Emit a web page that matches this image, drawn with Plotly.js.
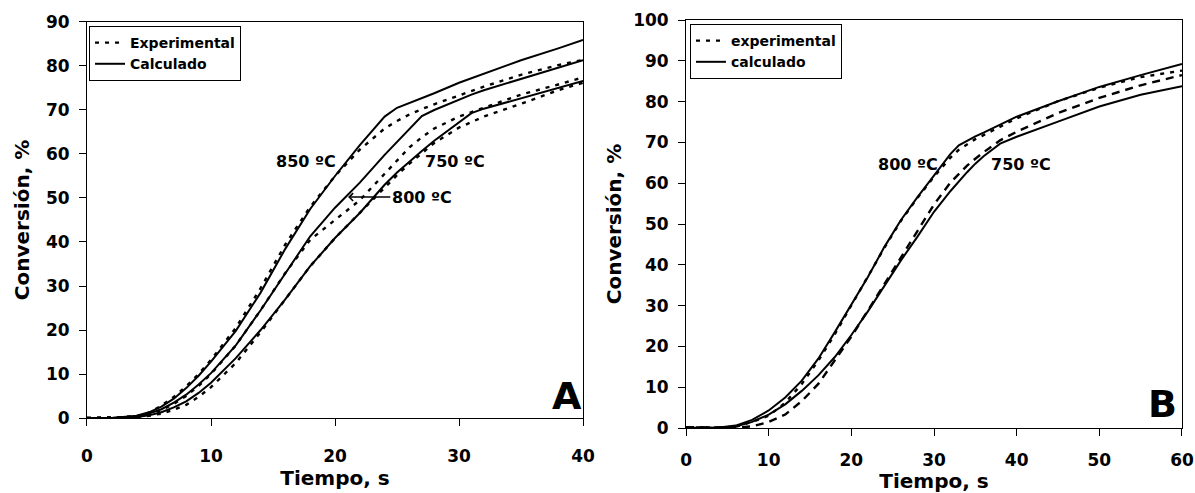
<!DOCTYPE html>
<html>
<head>
<meta charset="utf-8">
<script src="https://cdn.plot.ly/plotly-3.0.1.min.js"></script>
<style>html,body{margin:0;padding:0;background:#fff;}#chart{width:1195px;height:493px;}</style>
</head>
<body>
<div id="chart"></div>
<script>
// ---- Panel A data (time, s) ----
var tA = [0,2,4,5,6,7,8,9,10,12,14,16,18,20,22,24,25,26,27,28,30,31,32,35,38,40];
var calcA850 = [0,0,0.5,1.3,2.6,4.4,6.8,9.6,12.8,19.8,28.5,38.5,47.5,55,62,68.5,70.5,71.6,72.7,73.8,76.2,77.2,78.2,81.3,84,85.9];
var expA850  = [0,0.1,0.4,1.2,2.8,4.8,7.2,10,13.2,20.5,29.5,39.5,48,55,61,65.8,67.5,69,70.2,71.3,73.3,74.3,75.3,78,80.2,81.4];
var calcA800 = [0,0,0.3,1,2,3.5,5.3,7.6,10.2,16.5,24.5,33,41.3,47.8,53.5,59.8,62.8,65.8,68.6,70,72.4,73.5,74.5,77,79.6,81.3];
var expA800  = [0,0.1,0.3,0.9,1.8,3.2,5,7.3,10,16.5,24.5,33,40.5,45,49.5,55.5,58.5,61.5,63.8,65.8,68.5,69.5,70.5,73.5,75.8,77.4];
var calcA750 = [0,0,0.2,0.6,1.3,2.4,3.8,5.7,8,13.6,20,27,34.5,40.9,46.6,53,55.8,58.3,60.7,63,67.2,69.3,70.3,72.6,75,76.6];
var expA750  = [0,0.1,0.2,0.5,1,1.9,3,4.8,7,12.5,19.5,27,34.5,40.9,46.6,52.5,55.2,57.8,60.2,62.5,66,67.3,68.5,71.4,74.5,76.2];

// ---- Panel B data (time, s) ----
var tB = [0,2,4,6,8,10,12,14,16,18,20,22,24,26,28,30,32,33,34,35,36,38,40,45,50,55,60];
var calcB800 = [0,0,0.1,0.6,2,4.3,7.5,11.6,17,23.5,30.3,37,44.4,51,56.6,62,67.2,69.3,70.5,71.5,72.4,74.4,76.3,80.1,83.6,86.5,89.2];
var expB800  = [0.2,0.2,0.1,0.3,1.5,3,6.2,10.8,16.5,23,30,37,44.2,50.8,56.4,61.6,66.3,68.2,69.6,70.8,71.8,73.9,75.9,80.1,83.4,86,87.6];
var calcB750 = [0,0,0.1,0.4,1.5,3.3,5.8,9.1,12.9,17.4,22.8,28.6,34.9,41.1,46.9,53,58.1,60.5,62.7,64.8,66.6,69.7,71.4,75.1,78.8,81.7,83.8];
var expB750  = [0.2,0.2,0.1,0.1,0.4,1.5,3.3,6.6,10.8,16.6,22.4,28.8,35.3,42,48.5,54.8,60.2,62.3,64.3,66,67.6,70.5,72.6,77.2,80.9,84,86.5];

// ---- Text ----
var legendA = ["Experimental", "Calculado"];
var legendB = ["experimental", "calculado"];
var xTitle = "Tiempo, s";
var yTitle = "Conversión, %";

var FONT = "DejaVu Sans";
var dotStyle = "4px,6px";

function ln(x, y, name, dash, show, legend, xa, ya) {
  return {
    x: x, y: y, name: name, type: "scatter", mode: "lines",
    line: {color: "#000", width: dash ? 2.4 : 2, dash: dash || "solid"},
    showlegend: show, legend: legend, xaxis: xa, yaxis: ya, hoverinfo: "x+y"
  };
}

var data = [
  ln(tA, expA850, legendA[0], dotStyle, true, "legend", "x", "y"),
  ln(tA, calcA850, legendA[1], null, true, "legend", "x", "y"),
  ln(tA, expA800, legendA[0], dotStyle, false, "legend", "x", "y"),
  ln(tA, calcA800, legendA[1], null, false, "legend", "x", "y"),
  ln(tA, expA750, legendA[0], dotStyle, false, "legend", "x", "y"),
  ln(tA, calcA750, legendA[1], null, false, "legend", "x", "y"),
  ln(tB, expB800, legendB[0], dotStyle, true, "legend2", "x2", "y2"),
  ln(tB, calcB800, legendB[1], null, true, "legend2", "x2", "y2"),
  ln(tB, expB750, legendB[0], "8px,6px", false, "legend2", "x2", "y2"),
  ln(tB, calcB750, legendB[1], null, false, "legend2", "x2", "y2")
];

function xax(domain, range, anchor, lso, tso) {
  return {
    domain: domain, range: range, anchor: anchor, dtick: 10, tick0: 0,
    showline: true, linecolor: "#000", linewidth: 1, mirror: true,
    ticks: "outside", ticklen: 7, tickcolor: "#000", tickwidth: 1,
    showgrid: false, zeroline: false, ticklabelstandoff: lso,
    tickfont: {family: FONT, size: 17, color: "#000", weight: "bold"},
    title: {text: xTitle, standoff: tso, font: {family: FONT, size: 20, color: "#000", weight: "bold"}}
  };
}
function yax(domain, range, anchor, so) {
  return {
    domain: domain, range: range, anchor: anchor, dtick: 10, tick0: 0,
    showline: true, linecolor: "#000", linewidth: 1, mirror: true,
    ticks: "outside", ticklen: 7, tickcolor: "#000", tickwidth: 1,
    showgrid: false, zeroline: false, ticklabelstandoff: 6,
    tickfont: {family: FONT, size: 17, color: "#000", weight: "bold"},
    title: {text: yTitle, standoff: so, font: {family: FONT, size: 20, color: "#000", weight: "bold"}}
  };
}

var legStyle = {
  xanchor: "left", yanchor: "top", bgcolor: "#fff", bordercolor: "#000", borderwidth: 1,
  font: {family: FONT, size: 14, color: "#000", weight: "bold"}, tracegroupgap: 0, itemwidth: 30
};

var annFont = {family: FONT, size: 16, color: "#000", weight: "bold"};
var layout = {
  width: 1195, height: 493,
  margin: {l: 0, r: 0, t: 0, b: 0},
  paper_bgcolor: "#fff", plot_bgcolor: "#fff",
  font: {family: FONT, color: "#000"},
  xaxis: xax([0.0728, 0.4879], [0, 40], "y", 16, 0),
  yaxis: yax([0.1521, 0.9554], [0, 90], "x", 10),
  xaxis2: xax([0.5741, 0.9891], [0, 60], "y2", 10, 4),
  yaxis2: yax([0.1318, 0.9594], [0, 100], "x2", 6),
  legend: Object.assign({x: 0.0745, y: 0.9473}, legStyle),
  legend2: Object.assign({x: 0.5774, y: 0.9513}, legStyle),
  annotations: [
    {xref: "x", yref: "y", x: 17.7, y: 58.2, text: "850 ºC", showarrow: false, font: annFont},
    {xref: "x", yref: "y", x: 29.7, y: 58.2, text: "750 ºC", showarrow: false, font: annFont},
    {xref: "x", yref: "y", x: 21.05, y: 50.2, axref: "x", ayref: "y", ax: 27, ay: 50.2,
     text: "800 ºC", showarrow: true, arrowhead: 4, arrowsize: 1, arrowwidth: 1.5, arrowcolor: "#000", standoff: 0, font: annFont},
    {xref: "x", yref: "y", x: 38.7, y: 5.0, text: "A", showarrow: false, font: {family: FONT, size: 38, color: "#000", weight: "bold"}},
    {xref: "x2", yref: "y2", x: 26.8, y: 64.5, text: "800 ºC", showarrow: false, font: annFont},
    {xref: "x2", yref: "y2", x: 40.5, y: 64.5, text: "750 ºC", showarrow: false, font: annFont},
    {xref: "x2", yref: "y2", x: 57.6, y: 5.9, text: "B", showarrow: false, font: {family: FONT, size: 38, color: "#000", weight: "bold"}}
  ]
};

Plotly.newPlot("chart", data, layout, {staticPlot: true});
</script>
</body>
</html>
